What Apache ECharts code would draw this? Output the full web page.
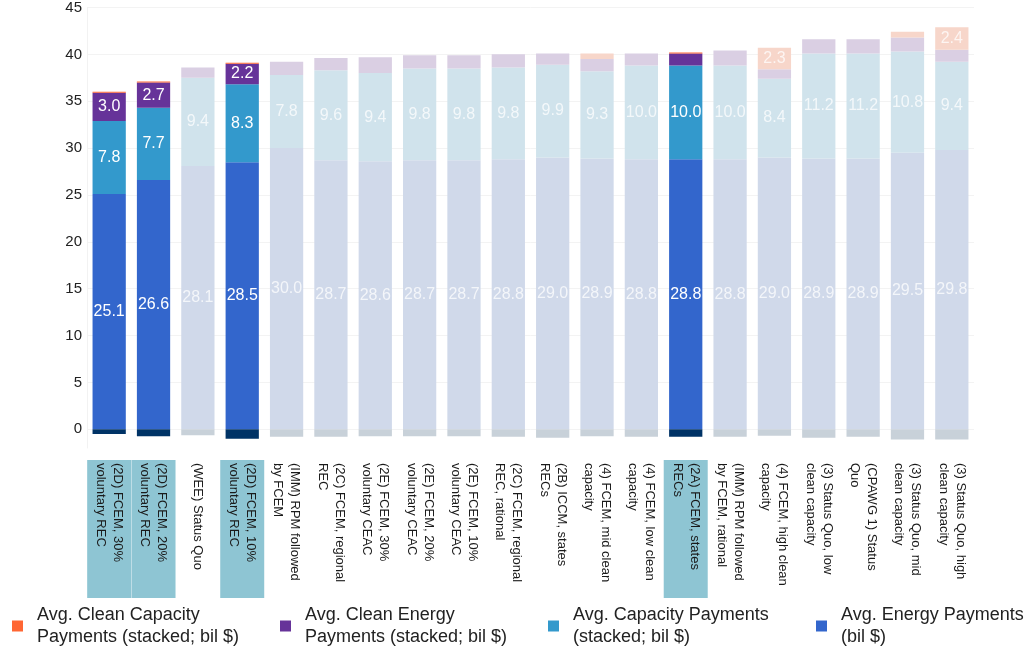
<!DOCTYPE html>
<html>
<head>
<meta charset="utf-8">
<script src="https://cdn.jsdelivr.net/npm/echarts@6/dist/echarts.min.js"></script>
<style>
  html, body { margin: 0; padding: 0; background: #fff; }
  #chart { width: 1030px; height: 654px; }
</style>
</head>
<body>
<div id="chart"></div>
<script>
// scenario names (line breaks as printed under the bars)
const categories = [
  "(2D) FCEM, 30%\nvoluntary REC",
  "(2D) FCEM, 20%\nvoluntary REC",
  "(WEE) Status Quo",
  "(2D) FCEM, 10%\nvoluntary REC",
  "(IMM) RPM followed\nby FCEM",
  "(2C) FCEM, regional\nREC",
  "(2E) FCEM, 30%\nvoluntary CEAC",
  "(2E) FCEM, 20%\nvoluntary CEAC",
  "(2E) FCEM, 10%\nvoluntary CEAC",
  "(2C) FCEM, regional\nREC, rational",
  "(2B) ICCM, states\nRECs",
  "(4) FCEM, mid clean\ncapacity",
  "(4) FCEM, low clean\ncapacity",
  "(2A) FCEM, states\nRECs",
  "(IMM) RPM followed\nby FCEM, rational",
  "(4) FCEM, high clean\ncapacity",
  "(3) Status Quo, low\nclean capacity",
  "(CPAWG 1) Status\nQuo",
  "(3) Status Quo, mid\nclean capacity",
  "(3) Status Quo, high\nclean capacity"
];
const highlighted = [0, 1, 3, 13];

const energy = [25.1, 26.6, 28.1, 28.5, 30.0, 28.7, 28.6, 28.7, 28.7, 28.8, 29.0, 28.9, 28.8, 28.8, 28.8, 29.0, 28.9, 28.9, 29.5, 29.8];
const capacity = [7.8, 7.7, 9.4, 8.3, 7.8, 9.6, 9.4, 9.8, 9.8, 9.8, 9.9, 9.3, 10.0, 10.0, 10.0, 8.4, 11.2, 11.2, 10.8, 9.4];
const cleanEnergy = [3.0, 2.7, 1.1, 2.2, 1.4, 1.3, 1.7, 1.4, 1.4, 1.4, 1.2, 1.3, 1.3, 1.3, 1.6, 1.0, 1.5, 1.5, 1.5, 1.3];
const cleanCapacity = [0.1, 0.1, 0, 0.1, 0, 0, 0, 0, 0, 0, 0, 0.6, 0, 0.1, 0, 2.3, 0, 0, 0.6, 2.4];
const negative = [-0.5, -0.75, -0.65, -1.0, -0.8, -0.8, -0.75, -0.75, -0.75, -0.8, -0.9, -0.75, -0.8, -0.8, -0.8, -0.7, -0.9, -0.8, -1.1, -1.1];
const yTicks = [0, 5, 10, 15, 20, 25, 30, 35, 40, 45];

const FONT = "Liberation Sans, Arial, sans-serif";

function items(values, on, off, minLabel) {
  return values.map((v, i) => {
    const hl = highlighted.indexOf(i) >= 0;
    return {
      value: v,
      itemStyle: { color: hl ? on : off },
      label: {
        show: minLabel != null && v >= minLabel,
        color: hl ? "#ffffff" : "rgba(255,255,255,0.75)"
      }
    };
  });
}

function bar(name, values, on, off, minLabel) {
  return {
    name: name,
    type: "bar",
    stack: "total",
    barWidth: "75%",
    color: on,
    label: {
      position: "inside",
      fontFamily: FONT,
      fontSize: 16,
      formatter: p => p.value.toFixed(1)
    },
    emphasis: { disabled: true },
    data: items(values, on, off, minLabel)
  };
}

const chart = echarts.init(document.getElementById("chart"));
chart.setOption({
  animation: false,
  textStyle: { fontFamily: FONT },
  grid: { left: 87, right: 56, top: 6, bottom: 206 },
  legend: {
    data: [
      "Avg. Clean Capacity\nPayments (stacked; bil $)",
      "Avg. Clean Energy\nPayments (stacked; bil $)",
      "Avg. Capacity Payments\n(stacked; bil $)",
      "Avg. Energy Payments\n(bil $)"
    ],
    left: 7,
    top: 599,
    width: 1200,
    icon: "rect",
    itemWidth: 11,
    itemHeight: 11,
    itemGap: 10,
    selectedMode: false,
    textStyle: {
      fontFamily: FONT,
      fontSize: 18,
      lineHeight: 22,
      color: "#222",
      width: 233,
      padding: [0, 0, 0, 9]
    }
  },
  xAxis: {
    type: "category",
    data: categories.map((c, i) => {
      const hl = highlighted.indexOf(i) >= 0;
      return {
        value: c,
        textStyle: hl ? { backgroundColor: "#8ec5d3" } : {}
      };
    }),
    axisLine: { show: false },
    axisTick: { show: false },
    axisLabel: {
      interval: 0,
      rotate: -90,
      margin: 12,
      fontFamily: FONT,
      fontSize: 13,
      lineHeight: 17,
      color: "#1a1a1a",
      width: 135,
      height: 34,
      padding: [5, 0, 5, 3],
      overflow: "none"
    }
  },
  yAxis: {
    type: "value",
    min: -2,
    max: 45,
    axisLine: { show: true, lineStyle: { color: "#f2f2f2" } },
    axisTick: { show: false, customValues: yTicks },
    axisLabel: {
      customValues: yTicks,
      margin: 5,
      fontFamily: FONT,
      fontSize: 15,
      color: "#222"
    },
    splitLine: { show: true, lineStyle: { color: "#f3f3f3" } }
  },
  series: [
    bar("Avg. Energy Payments\n(bil $)", energy, "#3366cc", "#d0d9ea", 0),
    bar("Avg. Capacity Payments\n(stacked; bil $)", capacity, "#3399cc", "#d0e3ec", 0),
    bar("Avg. Clean Energy\nPayments (stacked; bil $)", cleanEnergy, "#663399", "#dacfe3", 2),
    bar("Avg. Clean Capacity\nPayments (stacked; bil $)", cleanCapacity, "#ff6633", "#f7d6ca", 2),
    bar("Net adjustment", negative, "#003366", "#c8d1d9", null)
  ]
});
</script>
</body>
</html>
